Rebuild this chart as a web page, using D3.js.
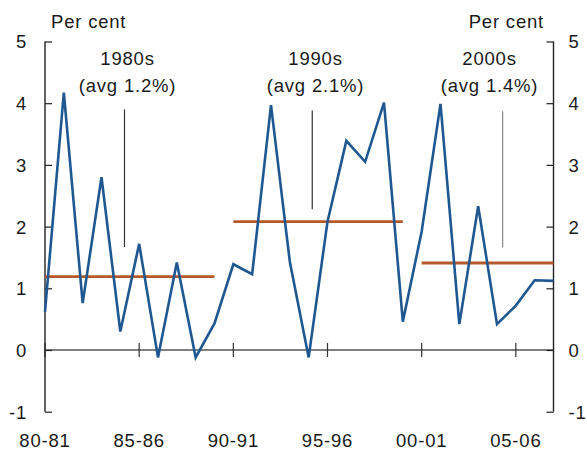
<!DOCTYPE html>
<html><head><meta charset="utf-8">
<script src="https://cdn.jsdelivr.net/npm/d3@7"></script>
<style>
html,body{margin:0;padding:0;background:#fff;}
text{font-family:"Liberation Sans",Arial,sans-serif;font-size:18.5px;fill:#1a1a1a;letter-spacing:0.8px;}
</style></head>
<body>
<svg id="c" width="587" height="450"></svg>
<script>
const years = ["80-81","81-82","82-83","83-84","84-85","85-86","86-87","87-88","88-89","89-90",
  "90-91","91-92","92-93","93-94","94-95","95-96","96-97","97-98","98-99","99-00",
  "00-01","01-02","02-03","03-04","04-05","05-06","06-07","07-08"];
const growth = [0.62,4.17,0.76,2.80,0.30,1.72,-0.12,1.42,-0.12,0.43,
  1.39,1.23,3.97,1.43,-0.12,2.08,3.39,3.05,4.01,0.46,
  1.92,3.99,0.42,2.33,0.42,0.72,1.13,1.12];
const xTickLabels = ["80-81","85-86","90-91","95-96","00-01","05-06"];
const yTicks = [-1,0,1,2,3,4,5];
const yTickLabels = ["-1","0","1","2","3","4","5"];
const decades = ["1980s","1990s","2000s"];
const decadeAvgLabels = ["(avg 1.2%)","(avg 2.1%)","(avg 1.4%)"];
const decadeAvg = [1.19,2.08,1.41];
const decadeStart = ["80-81","90-91","00-01"];
const decadeEnd = ["89-90","99-00","07-08"];
// annotation pointer lines: position (fractional year index) and value range
const pointerX = [4.22,14.19,24.3];
const pointerTop = [3.9,3.88,3.87];
const pointerBottom = [1.67,2.28,1.66];

const svg = d3.select("#c");
const L = 45, R = 553.5;
const x = d3.scalePoint().domain(years).range([L,R]).padding(0);
const xi = d3.scaleLinear().domain([0,years.length-1]).range([L,R]);
const y = d3.scaleLinear().domain([-1,5]).range([411.7,41.5]);
const fmt = d => yTickLabels[yTicks.indexOf(d)];

// zero line
svg.append("line").attr("x1",L).attr("x2",R).attr("y1",y(0)).attr("y2",y(0))
  .attr("stroke","#555").attr("stroke-width",1.6);
// x ticks crossing zero line
svg.selectAll(".xt").data(xTickLabels).enter().append("line")
  .attr("x1",d=>x(d)).attr("x2",d=>x(d)).attr("y1",y(0)-7).attr("y2",y(0)+7)
  .attr("stroke","#333").attr("stroke-width",1.2);
svg.selectAll(".xl").data(xTickLabels).enter().append("text")
  .attr("x",d=>x(d)).attr("y",447).attr("text-anchor","middle").text(d=>d);

// left and right axes
const yl = d3.axisLeft(y).tickValues(yTicks).tickSize(-7).tickPadding(18).tickFormat(fmt);
const gl = svg.append("g").attr("transform",`translate(${L},0)`).call(yl);
const yr = d3.axisRight(y).tickValues(yTicks).tickSize(-7).tickPadding(15).tickFormat(fmt);
const gr = svg.append("g").attr("transform",`translate(${R},0)`).call(yr);
[gl,gr].forEach(g=>{
  g.attr("font-size",null).attr("font-family",null);
  g.select(".domain").attr("stroke","#222").attr("stroke-width",1.4).attr("d",`M0,${y(5)}V${y(-1)}`);
  g.selectAll(".tick line").attr("stroke","#222").attr("stroke-width",1.2);
  g.selectAll(".tick text").attr("fill","#1a1a1a").attr("dy","0.35em");
});
gl.selectAll(".tick text").attr("x",-18);
gr.selectAll(".tick text").attr("x",15);

// unit labels
svg.append("text").attr("x",51).attr("y",27.5).text("Per cent");
svg.append("text").attr("x",544).attr("y",27.5).attr("text-anchor","end").text("Per cent");

// pointer lines
const pc = ["#333","#333","#888"];
svg.selectAll(".pl").data(decades).enter().append("line")
  .attr("x1",(d,i)=>xi(pointerX[i])).attr("x2",(d,i)=>xi(pointerX[i]))
  .attr("y1",(d,i)=>y(pointerTop[i])).attr("y2",(d,i)=>y(pointerBottom[i]))
  .attr("stroke",(d,i)=>pc[i]).attr("stroke-width",1.2);

// decade labels
const labX = [127.5,315.5,489.5];
svg.selectAll(".dl").data(decades).enter().append("text")
  .attr("x",(d,i)=>labX[i]).attr("y",65).attr("text-anchor","middle").text(d=>d);
svg.selectAll(".da").data(decadeAvgLabels).enter().append("text")
  .attr("x",(d,i)=>labX[i]).attr("y",92).attr("text-anchor","middle").text(d=>d);

// average lines
svg.selectAll(".avg").data(decadeAvg).enter().append("line")
  .attr("x1",(d,i)=>x(decadeStart[i])).attr("x2",(d,i)=>x(decadeEnd[i]))
  .attr("y1",d=>y(d)).attr("y2",d=>y(d))
  .attr("stroke","#b5582a").attr("stroke-width",2.8);

// growth line
svg.append("path").datum(growth)
  .attr("d",d3.line().x((d,i)=>x(years[i])).y(d=>y(d)))
  .attr("fill","none").attr("stroke","#1f5791").attr("stroke-width",2.6).attr("stroke-linejoin","miter");
</script>
</body></html>
